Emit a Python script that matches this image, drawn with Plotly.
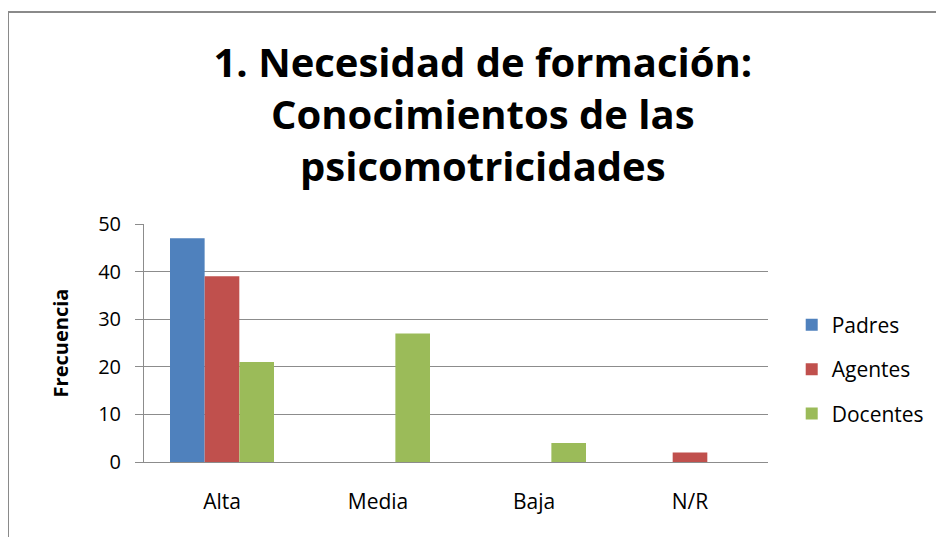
import plotly.graph_objects as go

categories = ["Alta", "Media", "Baja", "N/R"]
padres = [47, 0, 0, 0]
agentes = [39, 0, 0, 2]
docentes = [21, 27, 4, 0]

series = [
    ("Padres", padres, "#4F81BD"),
    ("Agentes", agentes, "#C0504D"),
    ("Docentes", docentes, "#9BBB59"),
]

FONT = "'Open Sans', Lato, sans-serif"

fig = go.Figure()
for name, vals, color in series:
    fig.add_trace(go.Bar(x=categories, y=vals, name=name, marker_color=color,
                         marker_line_width=0, legendgroup=name))

# the page adds an 8px offset, so the plot box is placed 8px up/left
L, T = 136, 216
W, H = 624, 238
R, B = 944 - L - W, 537 - T - H

def px_x(p):
    return (p - 8 - L) / W

def px_y(p):
    return (T + H - (p - 8)) / H

fig.update_layout(
    width=944, height=537,
    margin=dict(l=L, r=R, t=T, b=B),
    paper_bgcolor="white", plot_bgcolor="white",
    font=dict(family=FONT, color="#000000", size=20),
    barmode="group", bargap=0.333, bargroupgap=0,
    title=dict(
        text="<b>1. Necesidad de formación:<br>Conocimientos de las<br>psicomotricidades</b>",
        x=0.503, xanchor="center", y=0.872, yanchor="middle",
        font=dict(family=FONT, size=40, color="#000000"),
    ),
    legend=dict(x=1.038, y=0.39, xanchor="left", yanchor="middle",
                font=dict(size=21), tracegroupgap=14,
                bgcolor="rgba(0,0,0,0)"),
    showlegend=True,
)
fig.update_yaxes(
    range=[0, 50], dtick=10, showgrid=True, gridcolor="#8c8c8c", gridwidth=1,
    ticks="outside", ticklen=8, tickcolor="#8c8c8c", showline=True,
    linecolor="#8c8c8c", linewidth=1, zeroline=False,
    tickfont=dict(size=20), ticklabelstandoff=10,
    title=dict(text="<b>Frecuencia</b>", font=dict(size=20), standoff=24),
)
fig.update_xaxes(
    showline=True, linecolor="#8c8c8c", linewidth=1, ticks="",
    tickfont=dict(size=21), ticklabelstandoff=21,
)
fig.update_traces(width=0.222)

# outer chart border (left and top visible)
fig.add_shape(type="line", xref="paper", yref="paper",
              x0=px_x(8), x1=px_x(960), y0=px_y(12), y1=px_y(12),
              line=dict(color="#8a8a8a", width=2))
fig.add_shape(type="line", xref="paper", yref="paper",
              x0=px_x(8), x1=px_x(8), y0=px_y(12), y1=px_y(560),
              line=dict(color="#8a8a8a", width=2))

fig.write_html("out.html")
